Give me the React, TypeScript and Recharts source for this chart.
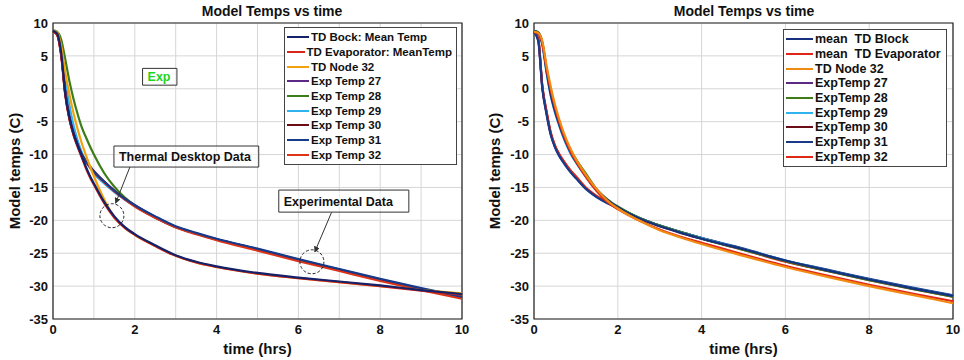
import React from "react";
import {
  LineChart,
  Line,
  XAxis,
  YAxis,
  CartesianGrid,
  Legend,
  ReferenceArea,
  ReferenceDot,
  ReferenceLine,
} from "recharts";

// time axis (hrs), shared by every series
const times = [0, 0.1, 0.2, 0.3, 0.4, 0.5, 0.6, 0.7, 0.8, 0.9, 1, 1.25, 1.5, 1.75, 2, 2.5, 3, 3.5, 4, 5, 6, 7, 8, 9, 10];

// ---- left chart ----
const leftTdBlock = [8.8, 8.4, 5.5, -0.8, -4.3, -6.8, -8.6, -10.2, -11.8, -13.2, -14.4, -17.2, -19.4, -21.0, -22.1, -23.8, -25.3, -26.3, -27.0, -28.0, -28.7, -29.3, -29.9, -30.6, -31.2];
const leftTdEvap = [8.7, 8.2, 5.0, -1.0, -4.6, -7.0, -8.8, -10.4, -12.0, -13.4, -14.6, -17.4, -19.6, -21.1, -22.2, -23.9, -25.4, -26.4, -27.1, -28.1, -28.8, -29.4, -30.0, -30.7, -31.3];
const leftTdNode32 = [8.8, 8.6, 6.5, 2.5, -0.8, -3.7, -6.1, -8.2, -10.0, -11.7, -13.3, -16.8, -19.5, -21.1, -22.2, -23.9, -25.4, -26.4, -27.1, -28.1, -28.8, -29.4, -30.0, -30.6, -31.1];
const leftExp27 = [8.8, 8.3, 5.4, -0.4, -4.2, -6.6, -8.4, -9.9, -10.9, -11.8, -12.5, -14.1, -15.5, -16.7, -17.7, -19.5, -21.0, -22.0, -22.9, -24.4, -26.0, -27.5, -29.0, -30.4, -31.7];
const leftExp28 = [8.9, 8.7, 7.5, 4.5, 1.2, -1.5, -3.8, -5.8, -7.3, -8.7, -10.0, -12.8, -14.9, -16.5, -17.7, -19.5, -21.0, -22.0, -22.9, -24.4, -26.0, -27.5, -29.0, -30.4, -31.7];
const leftExp29 = [8.8, 8.5, 6.0, 1.5, -2.5, -5.5, -7.8, -9.6, -11.0, -12.0, -12.9, -14.4, -15.7, -16.8, -17.8, -19.5, -21.0, -22.0, -22.9, -24.4, -26.0, -27.5, -29.0, -30.4, -31.7];
const leftExp30 = [8.8, 8.3, 5.3, -0.6, -4.4, -6.8, -8.5, -10.0, -11.0, -11.8, -12.6, -14.1, -15.5, -16.7, -17.8, -19.6, -21.0, -22.0, -22.9, -24.4, -26.0, -27.5, -29.0, -30.4, -31.8];
const leftExp31 = [8.8, 8.3, 5.3, -0.6, -4.4, -6.8, -8.5, -10.0, -11.0, -11.8, -12.6, -14.1, -15.5, -16.7, -17.7, -19.4, -20.9, -21.9, -22.8, -24.3, -25.9, -27.4, -28.9, -30.3, -31.6];
const leftExp32 = [8.7, 8.2, 5.2, -0.7, -4.5, -6.9, -8.6, -10.1, -11.1, -11.9, -12.7, -14.2, -15.6, -16.8, -17.9, -19.6, -21.1, -22.1, -23.0, -24.6, -26.2, -27.7, -29.2, -30.6, -31.9];

// ---- right chart ----
const rightTdBlock = [8.8, 8.5, 6.8, 2.6, -0.9, -3.4, -5.4, -7.2, -8.7, -10.0, -11.1, -13.4, -15.4, -16.9, -18.0, -19.7, -20.9, -21.9, -22.8, -24.4, -26.1, -27.6, -29.0, -30.3, -31.5];
const rightTdEvap = [8.6, 8.4, 6.9, 3.0, -0.2, -2.8, -5.0, -6.9, -8.5, -9.9, -11.0, -13.5, -15.6, -17.2, -18.3, -20.0, -21.4, -22.5, -23.4, -25.2, -26.9, -28.4, -29.8, -31.1, -32.3];
const rightTdNode32 = [8.7, 8.5, 7.2, 3.5, 0.3, -2.4, -4.6, -6.5, -8.1, -9.5, -10.7, -13.2, -15.3, -17.0, -18.2, -20.0, -21.5, -22.6, -23.6, -25.4, -27.1, -28.6, -30.0, -31.3, -32.6];
const rightExp27 = [8.7, 7.5, 0.1, -3.7, -6.9, -8.8, -10.1, -11.1, -12.0, -12.8, -13.5, -15.2, -16.4, -17.3, -18.1, -19.6, -20.8, -21.8, -22.7, -24.4, -26.2, -27.6, -29.0, -30.3, -31.5];
const rightExp28 = [8.8, 8.6, 7.0, 3.0, -0.5, -3.0, -5.0, -6.8, -8.3, -9.6, -10.7, -13.0, -15.3, -16.8, -17.9, -19.6, -20.8, -21.8, -22.8, -24.5, -26.2, -27.7, -29.1, -30.4, -31.6];
const rightExp29 = [8.8, 8.5, 6.6, 2.4, -1.1, -3.6, -5.6, -7.4, -8.9, -10.2, -11.2, -13.5, -15.5, -17.0, -18.0, -19.6, -20.8, -21.8, -22.7, -24.4, -26.1, -27.6, -29.0, -30.3, -31.5];
const rightExp30 = [8.7, 7.6, 0.2, -3.6, -6.8, -8.7, -10.0, -11.0, -11.9, -12.7, -13.4, -15.2, -16.4, -17.3, -18.1, -19.6, -20.8, -21.8, -22.7, -24.4, -26.2, -27.6, -29.0, -30.3, -31.5];
const rightExp31 = [8.6, 7.3, 0.0, -3.9, -7.0, -8.9, -10.2, -11.2, -12.1, -12.9, -13.6, -15.3, -16.5, -17.4, -18.1, -19.6, -20.8, -21.8, -22.7, -24.3, -26.1, -27.5, -28.9, -30.2, -31.4];
const rightExp32 = [8.7, 7.7, 0.4, -3.4, -6.6, -8.6, -9.9, -10.9, -11.8, -12.6, -13.3, -15.1, -16.3, -17.3, -18.1, -19.7, -20.9, -21.9, -22.8, -24.5, -26.3, -27.7, -29.1, -30.4, -31.6];

const leftNames = ["TD Bock: Mean Temp", "TD Evaporator: MeanTemp", "TD Node 32", "Exp Temp 27", "Exp Temp 28", "Exp Temp 29", "Exp Temp 30", "Exp Temp 31", "Exp Temp 32"];
const rightNames = ["mean  TD Block", "mean  TD Evaporator", "TD Node 32", "ExpTemp 27", "ExpTemp 28", "ExpTemp 29", "ExpTemp 30", "ExpTemp 31", "ExpTemp 32"];
const leftColors = ["#14226a", "#d8261a", "#f2a20c", "#5c2a84", "#3c7d1a", "#2fb3ee", "#6a0d16", "#173b8a", "#dd3317"];
const rightColors = ["#14307e", "#e0261b", "#f08a10", "#5c2a84", "#3c7d1a", "#2fb3ee", "#6a0d16", "#173b8a", "#dd2a17"];

const leftValues = [leftTdBlock, leftTdEvap, leftTdNode32, leftExp27, leftExp28, leftExp29, leftExp30, leftExp31, leftExp32];
const rightValues = [rightTdBlock, rightTdEvap, rightTdNode32, rightExp27, rightExp28, rightExp29, rightExp30, rightExp31, rightExp32];

// draw order (last on top)
const leftOrder = [4, 5, 3, 6, 8, 7, 2, 1, 0];
const rightOrder = [3, 6, 8, 7, 5, 4, 0, 1, 2];

const yTicks = [10, 5, 0, -5, -10, -15, -20, -25, -30, -35];
const leftXTicks = [0, 1, 2, 3, 4, 5, 6, 7, 8, 9, 10];
const rightXTicks = [0, 2, 4, 6, 8, 10];

const FONT = "'Liberation Sans', Arial, sans-serif";

function buildRows(values: number[][]) {
  return times.map((t, i) => {
    const row: Record<string, number> = { t };
    values.forEach((arr, k) => {
      row["s" + k] = arr[i];
    });
    return row;
  });
}

const leftData = buildRows(leftValues);
const rightData = buildRows(rightValues);

function LegendBox({ names, colors, lineW, fontSize }: { names: string[]; colors: string[]; lineW: number; fontSize: number }) {
  return (
    <div
      style={{
        border: "1px solid #444",
        background: "#fff",
        padding: "2px 4px 2px 2px",
        fontFamily: FONT,
        fontWeight: "bold",
        fontSize,
        color: "#111",
      }}
    >
      {names.map((n, i) => (
        <div key={n} style={{ display: "flex", alignItems: "center", height: 14.7, whiteSpace: "pre" }}>
          <span style={{ display: "inline-block", width: lineW, height: 2, background: colors[i], marginRight: 2 }} />
          {n}
        </div>
      ))}
    </div>
  );
}

const yLabel = (props: any) => {
  const vb = props.viewBox;
  const cx = vb.x + 14;
  const cy = vb.y + vb.height / 2;
  return (
    <text
      x={cx}
      y={cy}
      transform={`rotate(-90 ${cx} ${cy})`}
      textAnchor="middle"
      dominantBaseline="central"
      fontFamily={FONT}
      fontWeight="bold"
      fontSize={15}
      fill="#111"
    >
      Model temps (C)
    </text>
  );
};

const tickStyle = { fill: "#111", fontSize: 13, fontWeight: "bold", fontFamily: FONT };

function TempChart({
  data,
  names,
  colors,
  order,
  xTicks,
  yAxisW,
  rightM,
  legendPos,
  lineW,
  legendFont,
  children,
}: any) {
  return (
    <LineChart width={yAxisW === 53 ? 480 : 484} height={360} data={data} margin={{ top: 23, right: rightM, bottom: 5, left: 0 }}>
      <defs>
        <marker id="arrowHead" viewBox="0 0 10 10" refX="9" refY="5" markerWidth="6" markerHeight="6" orient="auto">
          <path d="M0,0 L10,5 L0,10 z" fill="#333" />
        </marker>
      </defs>
      <CartesianGrid stroke="#d6d6d6" strokeWidth={1} />
      <XAxis
        dataKey="t"
        type="number"
        domain={[0, 10]}
        ticks={xTicks}
        tickFormatter={(v: number) => (v % 2 === 0 ? String(v) : "")}
        axisLine={false}
        tickLine={false}
        tickSize={0}
        tickMargin={6}
        height={36}
        tick={tickStyle}
        label={{ value: "time (hrs)", position: "insideBottom", offset: 1, fill: "#111", fontSize: 15, fontWeight: "bold", fontFamily: FONT }}
      />
      <YAxis
        type="number"
        domain={[-35, 10]}
        ticks={yTicks}
        width={yAxisW}
        axisLine={false}
        tickLine={false}
        tickSize={0}
        tickMargin={5}
        tick={tickStyle}
        interval={0}
        label={{ content: yLabel }}
      />
      <ReferenceArea x1={0} x2={10} y1={-35} y2={10} fill="none" stroke="#222" strokeWidth={1.2} />
      {order.map((k: number) => (
        <Line
          key={k}
          type="monotone"
          dataKey={"s" + k}
          name={names[k]}
          stroke={colors[k]}
          strokeWidth={2.2}
          dot={false}
          isAnimationActive={false}
        />
      ))}
      {children}
      <Legend
        layout="vertical"
        align="center"
        verticalAlign="middle"
        wrapperStyle={{ left: legendPos.left, top: legendPos.top, width: legendPos.width }}
        content={() => <LegendBox names={names} colors={colors} lineW={lineW} fontSize={legendFont} />}
      />
    </LineChart>
  );
}

const boxLabel = (value: string, fill: string) => ({
  value,
  position: "insideLeft" as const,
  offset: 5,
  fill,
  fontSize: 12.5,
  fontWeight: "bold",
  fontFamily: FONT,
});

export default function App() {
  const title: React.CSSProperties = {
    position: "absolute",
    top: 3,
    fontFamily: FONT,
    fontWeight: "bold",
    fontSize: 14,
    color: "#111",
    textAlign: "center",
    width: 300,
  };
  return (
    <div style={{ position: "absolute", left: 0, top: 0, width: 964, height: 360, background: "#fff" }}>
      <div style={{ ...title, left: 272 - 150 }}>Model Temps vs time</div>
      <div style={{ ...title, left: 744 - 150 }}>Model Temps vs time</div>
      <div style={{ position: "absolute", left: 0, top: 0 }}>
        <TempChart
          data={leftData}
          names={leftNames}
          colors={leftColors}
          order={leftOrder}
          xTicks={leftXTicks}
          yAxisW={53}
          rightM={18}
          legendPos={{ left: 284, top: 27, width: 173 }}
          lineW={22}
          legendFont={11.5}
        >
          <ReferenceArea x1={2.19} x2={3.03} y1={0.55} y2={3.1} fill="#fff" stroke="#333" label={boxLabel("Exp", "#1ed41e")} />
          <ReferenceArea x1={1.49} x2={5.03} y1={-11.9} y2={-8.7} fill="#fff" stroke="#333" label={boxLabel("Thermal Desktop Data", "#111")} />
          <ReferenceArea x1={5.52} x2={8.7} y1={-18.75} y2={-15.4} fill="#fff" stroke="#333" label={boxLabel("Experimental Data", "#111")} />
          <ReferenceLine segment={[{ x: 1.88, y: -11.9 }, { x: 1.53, y: -17.4 }]} stroke="#333" markerEnd="url(#arrowHead)" />
          <ReferenceLine segment={[{ x: 6.81, y: -18.8 }, { x: 6.4, y: -24.8 }]} stroke="#333" markerEnd="url(#arrowHead)" />
          <ReferenceDot x={1.44} y={-19.3} r={12} fill="none" stroke="#222" strokeDasharray="3 2" />
          <ReferenceDot x={6.33} y={-26.3} r={12} fill="none" stroke="#222" strokeDasharray="3 2" />
        </TempChart>
      </div>
      <div style={{ position: "absolute", left: 480, top: 0 }}>
        <TempChart
          data={rightData}
          names={rightNames}
          colors={rightColors}
          order={rightOrder}
          xTicks={rightXTicks}
          yAxisW={54}
          rightM={11}
          legendPos={{ left: 303, top: 29, width: 164 }}
          lineW={27}
          legendFont={12.5}
        />
      </div>
    </div>
  );
}
